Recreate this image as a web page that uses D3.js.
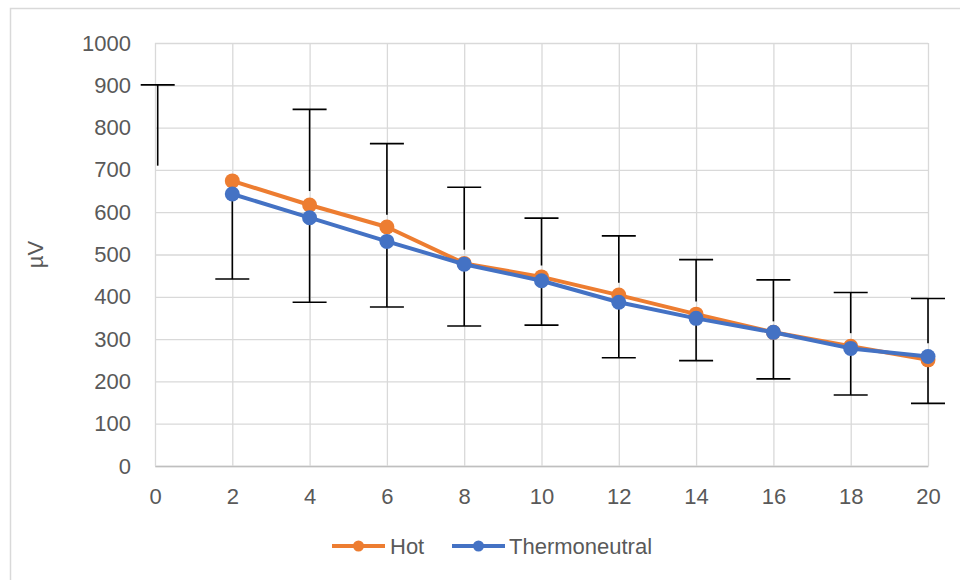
<!DOCTYPE html>
<html>
<head>
<meta charset="utf-8">
<script src="https://cdn.jsdelivr.net/npm/d3@7"></script>
<style>
  html, body { margin: 0; padding: 0; background: #fff; }
  svg text { font-family: "Liberation Sans", Arial, sans-serif; fill: #595959; }
</style>
</head>
<body>
<svg id="chart" width="960" height="580"></svg>
<script>
// Time points (x) and mean amplitudes (µV) per condition
const xValues = [2, 4, 6, 8, 10, 12, 14, 16, 18, 20];
const hot = [674, 617, 565, 479, 447, 404, 359, 316, 283, 251];
const thermoneutral = [643, 587, 531, 477, 438, 387, 349, 316, 278, 259];

// Error bars: upper whisker (from/to) and lower whisker (from series value down to)
const errX = [0.07, 2, 4, 6, 8, 10, 12, 14, 16, 18, 20];
const upperFrom = [710, null, 650, 594, 511, 474, 433, 389, 342, 314, 290];
const upperTo = [901, null, 843, 762, 659, 586, 544, 488, 440, 410, 396];
const lowerFrom = [null, 643, 587, 531, 477, 438, 387, 349, 316, 278, 259];
const lowerTo = [null, 442, 387, 376, 331, 333, 256, 249, 206, 168, 148];

const xTicks = [0, 2, 4, 6, 8, 10, 12, 14, 16, 18, 20];
const yTicks = [0, 100, 200, 300, 400, 500, 600, 700, 800, 900, 1000];

const seriesNames = ["Hot", "Thermoneutral"];
const seriesColors = ["#ED7D31", "#4472C4"];

const fontSize = 22;
const svg = d3.select("#chart");

// Chart frame
svg.append("path")
  .attr("d", "M10.5,580 V8.5 H960")
  .attr("fill", "none")
  .attr("stroke", "#d9d9d9")
  .attr("stroke-width", 1.5);

const plotLeft = 155, plotRight = 928, plotTop = 43, plotBottom = 466;
const x = d3.scaleLinear().domain([0, 20]).range([plotLeft, plotRight]);
const y = d3.scaleLinear().domain([0, 1000]).range([plotBottom, plotTop]);

// Horizontal gridlines + y labels
const yAxis = svg.append("g")
  .attr("transform", `translate(${plotLeft},0)`)
  .call(d3.axisLeft(y).tickValues(yTicks).tickFormat(d3.format("d"))
    .tickSizeInner(-(plotRight - plotLeft)).tickSizeOuter(0).tickPadding(24));
yAxis.select(".domain").attr("stroke", "#d9d9d9");
yAxis.selectAll(".tick line").attr("stroke", "#d9d9d9").attr("stroke-width", 1.3);
yAxis.selectAll(".tick text").attr("font-size", fontSize).style("fill", "#595959");

// Vertical gridlines + x labels
const xAxis = svg.append("g")
  .attr("transform", `translate(0,${plotBottom})`)
  .call(d3.axisBottom(x).tickValues(xTicks).tickFormat(d3.format("d"))
    .tickSizeInner(-(plotBottom - plotTop)).tickSizeOuter(0).tickPadding(22));
xAxis.select(".domain").attr("stroke", "#bfbfbf").attr("stroke-width", 1.5);
xAxis.selectAll(".tick line").attr("stroke", "#d9d9d9").attr("stroke-width", 1.3);
xAxis.selectAll(".tick text").attr("font-size", fontSize).style("fill", "#595959");

// Y axis title
svg.append("text")
  .attr("transform", `translate(43,${(plotTop + plotBottom) / 2}) rotate(-90)`)
  .attr("text-anchor", "middle")
  .attr("font-size", fontSize)
  .text("µV");

// Error bars
const capHalf = 17;
const eb = svg.append("g").attr("stroke", "#000").attr("stroke-width", 1.6).attr("fill", "none");
errX.forEach((xv, i) => {
  if (upperTo[i] != null) {
    eb.append("line").attr("x1", x(xv)).attr("x2", x(xv)).attr("y1", y(upperFrom[i])).attr("y2", y(upperTo[i]));
    eb.append("line").attr("x1", x(xv) - capHalf).attr("x2", x(xv) + capHalf).attr("y1", y(upperTo[i])).attr("y2", y(upperTo[i]));
  }
  if (lowerTo[i] != null) {
    eb.append("line").attr("x1", x(xv)).attr("x2", x(xv)).attr("y1", y(lowerFrom[i])).attr("y2", y(lowerTo[i]));
    eb.append("line").attr("x1", x(xv) - capHalf).attr("x2", x(xv) + capHalf).attr("y1", y(lowerTo[i])).attr("y2", y(lowerTo[i]));
  }
});

// Series lines and markers
const seriesData = [hot, thermoneutral];
const line = d3.line().x(d => x(d[0])).y(d => y(d[1]));
seriesData.forEach((vals, s) => {
  const pts = xValues.map((xv, i) => [xv, vals[i]]);
  svg.append("path")
    .attr("d", line(pts))
    .attr("fill", "none")
    .attr("stroke", seriesColors[s])
    .attr("stroke-width", 4)
    .attr("stroke-linejoin", "round");
  svg.append("g").selectAll("circle").data(pts).join("circle")
    .attr("cx", d => x(d[0]))
    .attr("cy", d => y(d[1]))
    .attr("r", 7.5)
    .attr("fill", seriesColors[s]);
});

// Legend
const legendY = 546;
const legendItems = [
  { x0: 332, x1: 385, tx: 390 },
  { x0: 452, x1: 505, tx: 509 }
];
seriesNames.forEach((name, s) => {
  const it = legendItems[s];
  const g = svg.append("g");
  g.append("line").attr("x1", it.x0).attr("x2", it.x1).attr("y1", legendY).attr("y2", legendY)
    .attr("stroke", seriesColors[s]).attr("stroke-width", 4);
  g.append("circle").attr("cx", (it.x0 + it.x1) / 2).attr("cy", legendY).attr("r", 5.5).attr("fill", seriesColors[s]);
  g.append("text").attr("x", it.tx).attr("y", legendY + 8).attr("font-size", fontSize).text(name);
});
</script>
</body>
</html>
